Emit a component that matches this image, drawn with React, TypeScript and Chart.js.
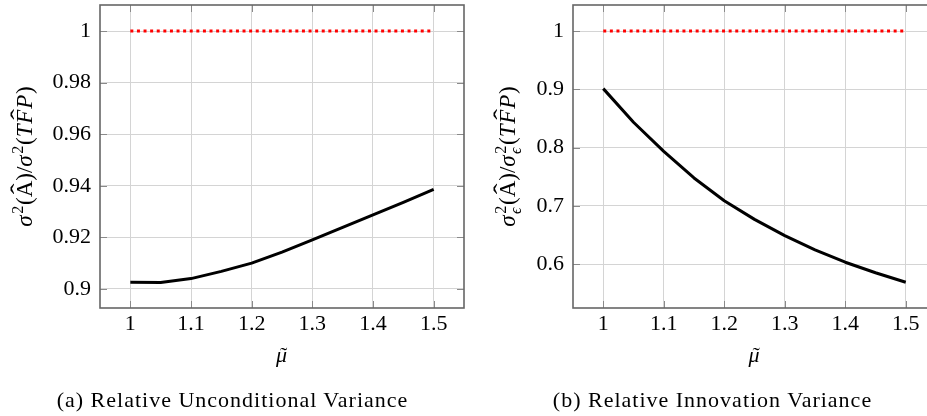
import React, { useEffect, useRef } from "react";
import { Chart, registerables } from "chart.js";

Chart.register(...registerables);

// ---------- data ----------
const muValues = [1, 1.05, 1.1, 1.15, 1.2, 1.25, 1.3, 1.35, 1.4, 1.45, 1.5];
const relUnconditional = [0.9026, 0.9025, 0.904, 0.9068, 0.91, 0.9143, 0.919, 0.9239, 0.9287, 0.9336, 0.9386];
const relInnovation = [0.9012, 0.8435, 0.7935, 0.748, 0.709, 0.677, 0.649, 0.6245, 0.6035, 0.5855, 0.5691];
const benchmarkX = [1, 1.5];
const benchmarkY = [1, 1];

const xTicks = [1, 1.1, 1.2, 1.3, 1.4, 1.5];
const xTickLabels = ["1", "1.1", "1.2", "1.3", "1.4", "1.5"];
const xRange = [0.95, 1.55];

const yTicksA = [0.9, 0.92, 0.94, 0.96, 0.98, 1];
const yTickLabelsA = ["0.9", "0.92", "0.94", "0.96", "0.98", "1"];
const yRangeA = [0.8926, 1.0101];

const yTicksB = [0.6, 0.7, 0.8, 0.9, 1];
const yTickLabelsB = ["0.6", "0.7", "0.8", "0.9", "1"];
const yRangeB = [0.525, 1.0446];

const captionA = "(a) Relative Unconditional Variance";
const captionB = "(b) Relative Innovation Variance";

type Seg = { t?: string; it?: boolean; sup?: string; sub?: string; hat?: boolean; tilde?: boolean };

const titleA: Seg[] = [
  { t: "σ", it: true }, { sup: "2" }, { t: "(" }, { t: "A", hat: true }, { t: ")" }, { t: "/" },
  { t: "σ", it: true }, { sup: "2" }, { t: "(" }, { t: "T", it: true }, { t: "F", it: true, hat: true },
  { t: "P", it: true }, { t: ")" },
];
const titleB: Seg[] = [
  { t: "σ", it: true }, { sup: "2", sub: "ϵ" }, { t: "(" }, { t: "A", hat: true }, { t: ")" }, { t: "/" },
  { t: "σ", it: true }, { sup: "2", sub: "ϵ" }, { t: "(" }, { t: "T", it: true }, { t: "F", it: true, hat: true },
  { t: "P", it: true }, { t: ")" },
];
const xTitle: Seg[] = [{ t: "μ", it: true, tilde: true }];

const FONT = "'Liberation Serif', 'DejaVu Serif', serif";
const FS = 22;
const TITLE_FS = 23;

function fontStr(it: boolean | undefined, size: number) {
  return `${it ? "italic " : ""}${size}px ${FONT}`;
}

function segW(ctx: CanvasRenderingContext2D, s: Seg, size: number) {
  if (s.sup !== undefined || s.sub !== undefined) {
    const sm = size * 0.7;
    let w = 0;
    if (s.sup) { ctx.font = fontStr(false, sm); w = Math.max(w, ctx.measureText(s.sup).width); }
    if (s.sub) { ctx.font = fontStr(true, sm); w = Math.max(w, ctx.measureText(s.sub).width); }
    return w + 1.5;
  }
  ctx.font = fontStr(s.it, size);
  return ctx.measureText(s.t || "").width + (s.it ? 0.8 : 0);
}

function drawRich(ctx: CanvasRenderingContext2D, segs: Seg[], size: number) {
  const ws = segs.map((s) => segW(ctx, s, size));
  const total = ws.reduce((a, b) => a + b, 0);
  let x = -total / 2;
  ctx.fillStyle = "#000";
  ctx.textBaseline = "alphabetic";
  ctx.textAlign = "left";
  segs.forEach((s, i) => {
    if (s.sup !== undefined || s.sub !== undefined) {
      const sm = size * 0.7;
      if (s.sup) { ctx.font = fontStr(false, sm); ctx.fillText(s.sup, x + 0.8, -size * 0.38); }
      if (s.sub) { ctx.font = fontStr(true, sm); ctx.fillText(s.sub, x + 0.5, size * 0.24); }
    } else {
      ctx.font = fontStr(s.it, size);
      ctx.fillText(s.t || "", x, 0);
      const cx = x + ws[i] / 2 + (s.it ? size * 0.08 : 0);
      if (s.hat) {
        ctx.save();
        ctx.font = fontStr(false, size);
        const hw = ctx.measureText("ˆ").width;
        ctx.translate(cx, -size * 0.2);
        ctx.scale(1.4, 1);
        ctx.fillText("ˆ", -hw / 2, 0);
        ctx.restore();
      }
      if (s.tilde) {
        ctx.save();
        ctx.font = fontStr(false, size);
        const tw = ctx.measureText("˜").width;
        ctx.fillText("˜", cx - tw / 2, 0);
        ctx.restore();
      }
    }
    x += ws[i];
  });
}

type PanelProps = {
  left: number;
  width: number;
  values: number[];
  yTicks: number[];
  yTickLabels: string[];
  yRange: number[];
  yAxisWidth: number;
  yTitle: Seg[];
  yTitleOffset: number;
};

function Panel(p: PanelProps) {
  const ref = useRef<HTMLCanvasElement | null>(null);
  useEffect(() => {
    const canvas = ref.current;
    if (!canvas) return;
    const decor = {
      id: "decor",
      afterDraw(chart: any) {
        const ctx = chart.ctx as CanvasRenderingContext2D;
        const a = chart.chartArea;
        const xs = chart.scales.x;
        const ys = chart.scales.y;
        ctx.save();
        // inner tick marks
        ctx.strokeStyle = "#8a8a8a";
        ctx.lineWidth = 1;
        ctx.beginPath();
        xTicks.forEach((v) => {
          const px = Math.round(xs.getPixelForValue(v)) + 0.5;
          ctx.moveTo(px, a.bottom); ctx.lineTo(px, a.bottom - 7);
          ctx.moveTo(px, a.top); ctx.lineTo(px, a.top + 7);
        });
        p.yTicks.forEach((v) => {
          const py = Math.round(ys.getPixelForValue(v)) + 0.5;
          ctx.moveTo(a.left, py); ctx.lineTo(a.left + 7, py);
          ctx.moveTo(a.right, py); ctx.lineTo(a.right - 7, py);
        });
        ctx.stroke();
        // frame
        ctx.strokeStyle = "#666666";
        ctx.lineWidth = 1.6;
        ctx.strokeRect(a.left, a.top, a.right - a.left, a.bottom - a.top);
        // y title (rotated)
        ctx.save();
        ctx.translate(a.left - p.yTitleOffset, (a.top + a.bottom) / 2);
        ctx.rotate(-Math.PI / 2);
        drawRich(ctx, p.yTitle, TITLE_FS);
        ctx.restore();
        // x title
        ctx.save();
        ctx.translate((a.left + a.right) / 2, a.bottom + 54);
        drawRich(ctx, xTitle, FS);
        ctx.restore();
        ctx.restore();
      },
    };
    const chart = new Chart(canvas, {
      type: "line",
      data: {
        datasets: [
          {
            data: benchmarkX.map((x, i) => ({ x, y: benchmarkY[i] })),
            borderColor: "#ff0000",
            borderWidth: 3,
            borderDash: [3, 3.6],
            borderCapStyle: "butt",
            pointRadius: 0,
            fill: false,
          },
          {
            data: muValues.map((x, i) => ({ x, y: p.values[i] })),
            borderColor: "#000000",
            borderWidth: 3,
            borderJoinStyle: "round",
            pointRadius: 0,
            tension: 0,
            fill: false,
          },
        ],
      },
      options: {
        responsive: false,
        animation: false,
        events: [],
        layout: { padding: { top: 5, right: 6, left: 0, bottom: 0 } },
        plugins: { legend: { display: false }, tooltip: { enabled: false }, title: { display: false } },
        scales: {
          x: {
            type: "linear",
            min: xRange[0],
            max: xRange[1],
            afterBuildTicks: (s: any) => { s.ticks = xTicks.map((v) => ({ value: v })); },
            afterFit: (s: any) => { s.height = 108; s.paddingLeft = 0; s.paddingRight = 0; },
            ticks: {
              callback: (_v: any, i: number) => xTickLabels[i],
              font: { family: FONT, size: FS },
              color: "#000",
              padding: 3,
              maxRotation: 0,
              autoSkip: false,
            },
            grid: { color: "#d4d4d4", lineWidth: 1, drawTicks: false },
            border: { display: false },
          },
          y: {
            type: "linear",
            min: p.yRange[0],
            max: p.yRange[1],
            afterBuildTicks: (s: any) => { s.ticks = p.yTicks.map((v) => ({ value: v })); },
            afterFit: (s: any) => { s.width = p.yAxisWidth; s.paddingTop = 0; s.paddingBottom = 0; },
            ticks: {
              callback: (_v: any, i: number) => p.yTickLabels[i],
              font: { family: FONT, size: FS },
              color: "#000",
              padding: 9,
              autoSkip: false,
            },
            grid: { color: "#d4d4d4", lineWidth: 1, drawTicks: false },
            border: { display: false },
          },
        },
      } as any,
      plugins: [decor],
    });
    return () => chart.destroy();
  }, []);
  return (
    <canvas
      ref={ref}
      width={p.width}
      height={416}
      style={{ position: "absolute", left: p.left, top: 0, width: p.width, height: 416 }}
    />
  );
}

const captionStyle = (center: number): React.CSSProperties => ({
  position: "absolute",
  left: center - 250,
  width: 500,
  top: 389,
  textAlign: "center",
  fontFamily: FONT,
  fontSize: 22,
  lineHeight: "22px",
  letterSpacing: "1px",
  color: "#000",
  whiteSpace: "nowrap",
});

export default function App() {
  return (
    <div
      style={{
        position: "fixed",
        left: 0,
        top: 0,
        width: 927,
        height: 416,
        overflow: "hidden",
        background: "#fff",
      }}
    >
      <Panel
        left={0}
        width={470}
        values={relUnconditional}
        yTicks={yTicksA}
        yTickLabels={yTickLabelsA}
        yRange={yRangeA}
        yAxisWidth={100}
        yTitle={titleA}
        yTitleOffset={68}
      />
      <Panel
        left={470}
        width={472}
        values={relInnovation}
        yTicks={yTicksB}
        yTickLabels={yTickLabelsB}
        yRange={yRangeB}
        yAxisWidth={103}
        yTitle={titleB}
        yTitleOffset={58}
      />
      <div style={captionStyle(232.5)}>{captionA}</div>
      <div style={captionStyle(712.5)}>{captionB}</div>
    </div>
  );
}
